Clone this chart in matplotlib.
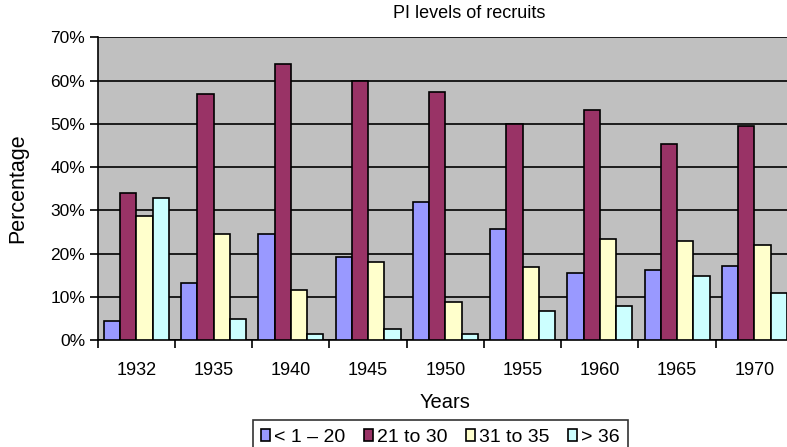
import matplotlib.pyplot as plt
import numpy as np

plt.rcParams['font.family'] = ['Liberation Sans', 'DejaVu Sans']

years = ['1932', '1935', '1940', '1945', '1950', '1955', '1960', '1965', '1970']
series_names = ['< 1 \u2013 20', '21 to 30', '31 to 35', '> 36']
pi_low = [4.5, 13.2, 24.4, 19.1, 31.9, 25.7, 15.5, 16.2, 17.2]
pi_21_30 = [33.9, 57.0, 63.9, 59.9, 57.3, 50.0, 53.1, 45.3, 49.4]
pi_31_35 = [28.6, 24.4, 11.5, 18.1, 8.8, 16.9, 23.3, 22.9, 21.9]
pi_36 = [32.9, 4.8, 1.3, 2.5, 1.5, 6.7, 7.8, 14.8, 10.9]
colors = ['#9999FF', '#993366', '#FFFFCC', '#CCFFFF']

fig = plt.figure(figsize=(7.87, 4.47), dpi=100)
ax = fig.add_axes([97.7 / 787, 1 - 340 / 447, (793 - 97.7) / 787, (340 - 37.3) / 447])
ax.set_facecolor('#C0C0C0')

x = np.arange(len(years))
w = 0.21
for k, vals in enumerate([pi_low, pi_21_30, pi_31_35, pi_36]):
    ax.bar(x + 0.08 + w * k, vals, width=w, align='edge', color=colors[k],
           edgecolor='black', linewidth=1.2, label=series_names[k], zorder=3)

ax.set_xlim(0, len(years))
ax.set_ylim(0, 70)
ax.set_yticks(range(0, 71, 10))
ax.set_yticklabels(['%d%%' % v for v in range(0, 71, 10)], fontsize=12.5)
ax.yaxis.grid(True, color='black', linewidth=1.2, zorder=1)
ax.set_axisbelow(True)

ax.set_xticks(np.arange(0, len(years) + 1))
ax.set_xticklabels([])
ax.set_xticks(x + 0.5, minor=True)
ax.set_xticklabels(years, minor=True, fontsize=13)
ax.tick_params(axis='x', which='minor', length=0, pad=16)
ax.tick_params(axis='x', which='major', length=6, width=1.2, direction='out')
ax.tick_params(axis='y', length=6, width=1.2, direction='out', pad=3)

for s in ['top', 'right']:
    ax.spines[s].set_visible(False)
ax.spines['left'].set_linewidth(1.2)
ax.spines['bottom'].set_linewidth(1.2)

ax.set_xlabel('Years', fontsize=14.5, labelpad=10)
ax.set_ylabel('Percentage', fontsize=15.5, labelpad=16)
fig.text(469 / 787, 1 - 14 / 447, 'PI levels of recruits', fontsize=13, ha='center', va='center')

leg = fig.legend(loc='upper left', bbox_to_anchor=(252.7 / 787, 1 - 420 / 447), ncol=4,
                 fontsize=14, frameon=True, fancybox=False, edgecolor='black',
                 handlelength=0.45, handleheight=0.6, handletextpad=0.2, columnspacing=0.97,
                 borderpad=0.45, borderaxespad=0)
leg.get_frame().set_linewidth(1.2)

fig.savefig('out.png', dpi=100)
